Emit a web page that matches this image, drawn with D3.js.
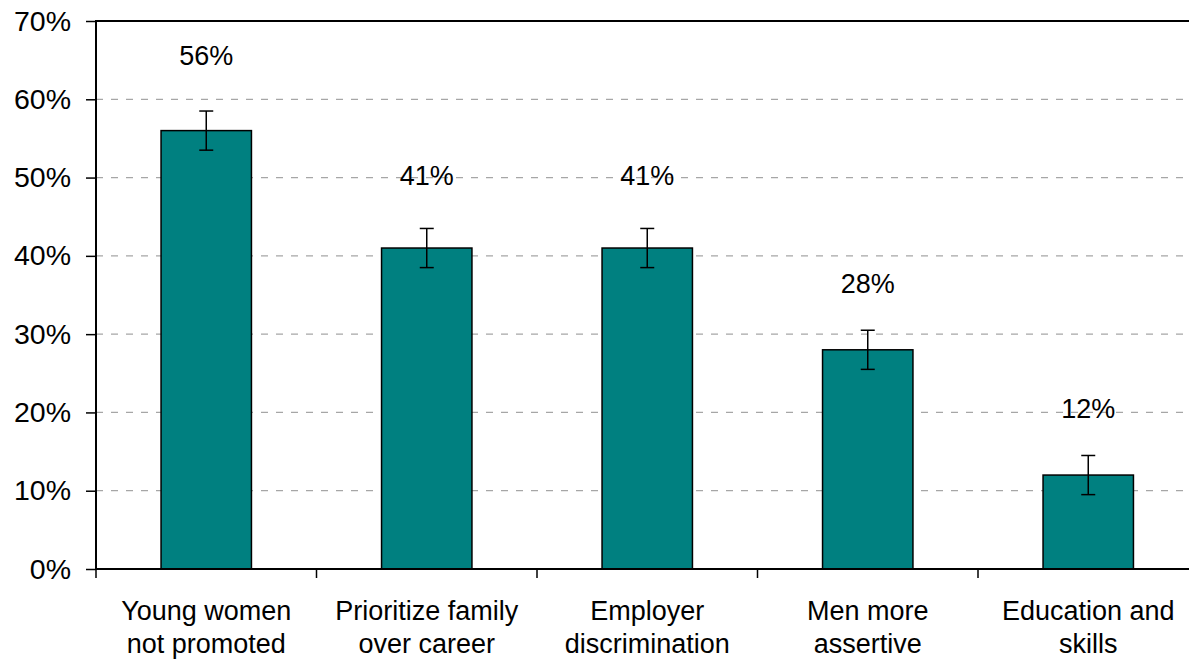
<!DOCTYPE html>
<html><head><meta charset="utf-8">
<script src="https://cdn.jsdelivr.net/npm/d3@7/dist/d3.min.js"></script>
<style>
html,body{margin:0;padding:0;background:#fff;}
svg{display:block;font-family:"Liberation Sans",Arial,sans-serif;}
</style></head>
<body><svg id="chart" width="1189" height="659"></svg>
<script>
const categories = [["Young women","not promoted"],["Prioritize family","over career"],["Employer","discrimination"],["Men more","assertive"],["Education and","skills"]];
const values = [56, 41, 41, 28, 12];
const errors = [2.5, 2.5, 2.5, 2.5, 2.5];
const labelAt = [64.4, 49, 49, 35.3, 19.3];
const yTicks = [0,10,20,30,40,50,60,70];

const svg = d3.select("#chart");
const L = 96, R = 1198.5, T = 21, B = 569;
const x = d3.scaleBand().domain(d3.range(categories.length)).range([L, R]).paddingInner(0).paddingOuter(0);
const y = d3.scaleLinear().domain([0,70]).range([B, T]);
const bw = x.bandwidth()*0.41;

// gridlines
svg.append("g").selectAll("line").data(yTicks.filter(t=>t>0 && t<70)).join("line")
  .attr("x1", L).attr("x2", R).attr("y1", d=>y(d)).attr("y2", d=>y(d))
  .attr("stroke", "#a6a6a6").attr("stroke-width", 1.2).attr("stroke-dasharray", "7,8");

// bars
svg.append("g").selectAll("rect").data(values).join("rect")
  .attr("x", (d,i)=>x(i)+x.bandwidth()/2-bw/2).attr("width", bw)
  .attr("y", d=>y(d)).attr("height", d=>B-y(d))
  .attr("fill", "#008080").attr("stroke", "#000").attr("stroke-width", 1.5);

// error bars
const eg = svg.append("g").attr("stroke", "#000").attr("stroke-width", 1.5);
values.forEach((v,i)=>{
  const cx = x(i)+x.bandwidth()/2;
  eg.append("line").attr("x1",cx).attr("x2",cx).attr("y1",y(v+errors[i])).attr("y2",y(v-errors[i]));
  eg.append("line").attr("x1",cx-7).attr("x2",cx+7).attr("y1",y(v+errors[i])).attr("y2",y(v+errors[i]));
  eg.append("line").attr("x1",cx-7).attr("x2",cx+7).attr("y1",y(v-errors[i])).attr("y2",y(v-errors[i]));
});

// value labels
svg.append("g").selectAll("text").data(values).join("text")
  .attr("x", (d,i)=>x(i)+x.bandwidth()/2).attr("y", (d,i)=>y(labelAt[i]))
  .attr("text-anchor","middle").attr("font-size", 27).attr("fill","#000")
  .text(d=>d+"%");

// plot border
svg.append("rect").attr("x", L).attr("y", T).attr("width", R-L).attr("height", B-T)
  .attr("fill","none").attr("stroke","#000").attr("stroke-width",2);

// y axis
const yAxis = d3.axisLeft(y).tickValues(yTicks).tickFormat(d=>d+"%").tickSize(10).tickPadding(15);
const ya = svg.append("g").attr("transform",`translate(${L},0)`).call(yAxis);
ya.select(".domain").remove();
ya.selectAll(".tick line").attr("stroke","#000").attr("stroke-width",1.5);
ya.selectAll(".tick text").attr("font-size",28.5).attr("font-family","Liberation Sans, Arial, sans-serif").attr("fill","#000");

// x axis ticks at boundaries
const xt = d3.range(categories.length+1).map(i=>L + i*x.bandwidth());
svg.append("g").selectAll("line").data(xt).join("line")
  .attr("x1",d=>d).attr("x2",d=>d).attr("y1",B).attr("y2",B+9)
  .attr("stroke","#000").attr("stroke-width",1.5);

// category labels
const cg = svg.append("g");
categories.forEach((c,i)=>{
  const t = cg.append("text").attr("x", x(i)+x.bandwidth()/2).attr("y", 620)
    .attr("text-anchor","middle").attr("font-size",27).attr("fill","#000");
  c.forEach((line,j)=>t.append("tspan").attr("x", x(i)+x.bandwidth()/2).attr("dy", j===0?0:33).text(line));
});
</script></body></html>
